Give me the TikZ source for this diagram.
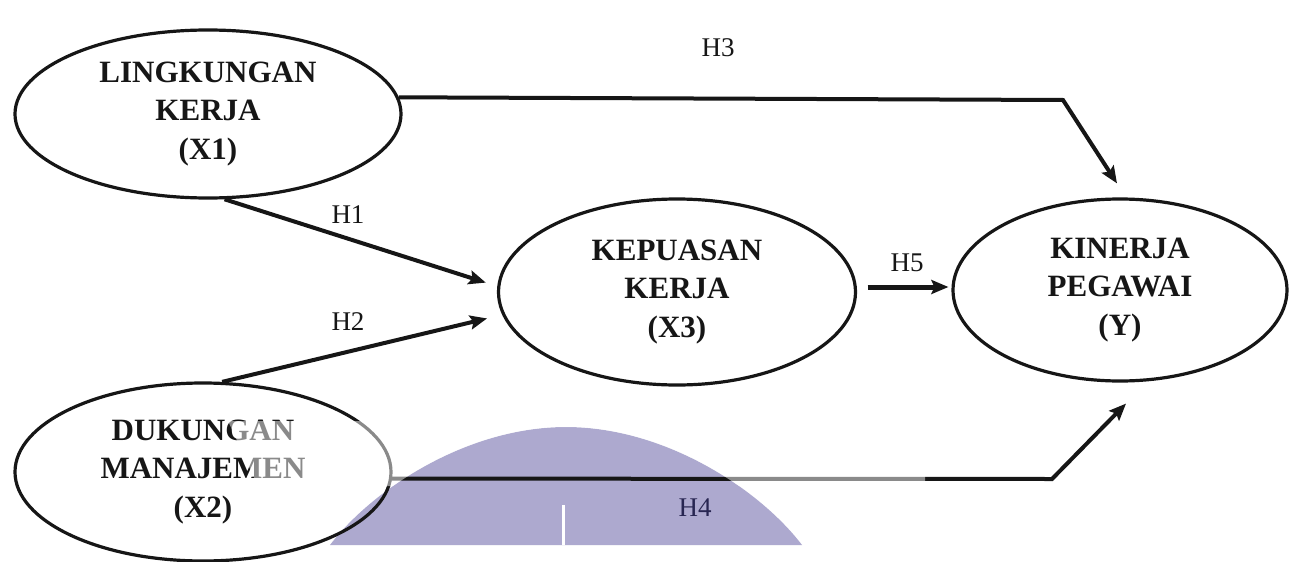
\documentclass[tikz,border=0pt]{standalone}
\usepackage{fontspec}
\setmainfont{Liberation Serif}
\usetikzlibrary{shapes.geometric,arrows.meta}

\definecolor{ink}{RGB}{22,22,22}
\definecolor{wmblue}{RGB}{173,169,207}
\definecolor{wmnavy}{RGB}{40,38,82}

\newcommand\titlefont{\fontsize{31}{38.5}\selectfont\bfseries}
\newcommand\labelfont{\fontsize{27}{30}\selectfont}
% outline of the half-round emblem behind the lower arrow
\newcommand\wmshape{(330,545) .. controls (372,490) and (466,427) .. (566,427)
  .. controls (666,427) and (760,490) .. (802,545) -- cycle}

\begin{document}
\begin{tikzpicture}[x=1pt,y=-1pt,
  latent/.style={ellipse, draw=ink, line width=3.2pt, inner sep=0pt,
    align=center, text=ink, font=\titlefont},
  link/.style={draw=ink, line width=4pt,
    -{Stealth[length=17pt,width=14pt,inset=3pt]}},
  hyp/.style={font=\labelfont, text=ink, inner sep=0pt}]

\useasboundingbox (0,0) rectangle (1294,562);
\fill[white] (0,0) rectangle (1294,562);

% emblem
\fill[wmblue] \wmshape;
\fill[white] (561.5,505) rectangle (564.5,545);

% constructs
\node[latent, minimum width=386pt, minimum height=168pt] (x1) at (208,114)
  {LINGKUNGAN\\KERJA\\(X1)};
\node[latent, minimum width=376pt, minimum height=178pt] (x2) at (203,472)
  {DUKUNGAN\\MANAJEMEN\\(X2)};
\node[latent, minimum width=357pt, minimum height=186pt] (x3) at (677,292)
  {KEPUASAN\\KERJA\\(X3)};
\node[latent, minimum width=334pt, minimum height=182pt] (y) at (1120,290)
  {KINERJA\\PEGAWAI\\(Y)};

\coordinate (h3bend) at (1063,100);
\coordinate (h4bend) at (1052,479);

% hypothesised paths
\draw[link] (x1.-79) -- ([xshift=-12pt]x3.177);
\draw[link] (x2.78) -- ([shift={(-16pt,-2pt)}]x3.-172.5);
\draw[link] (x1.5) -- (h3bend) -- ([shift={(-3pt,14pt)}]y.north);
\draw[link] (x2.-2) -- (h4bend) -- ([shift={(6pt,-21pt)}]y.south);
\draw[link, line width=5pt] ([shift={(10.5pt,5pt)}]x3.east) -- ([shift={(-3pt,3pt)}]y.west);

% path labels
\node[hyp] (lh1) at (348,215) {H1};
\node[hyp] (lh2) at (348,322) {H2};
\node[hyp] (lh3) at (718,48) {H3};
\node[hyp, text=wmnavy] (lh4) at (695,508) {H4};
\node[hyp] (lh5) at (907,263) {H5};

% pale veil of the emblem outside its coloured part
\begin{scope}
  \clip (228,421) -- (925,421) -- (925,486) -- (258,486) -- cycle;
  \fill[white, opacity=.5, even odd rule] (0,0) rectangle (1294,562) \wmshape;
\end{scope}
\end{tikzpicture}
\end{document}
